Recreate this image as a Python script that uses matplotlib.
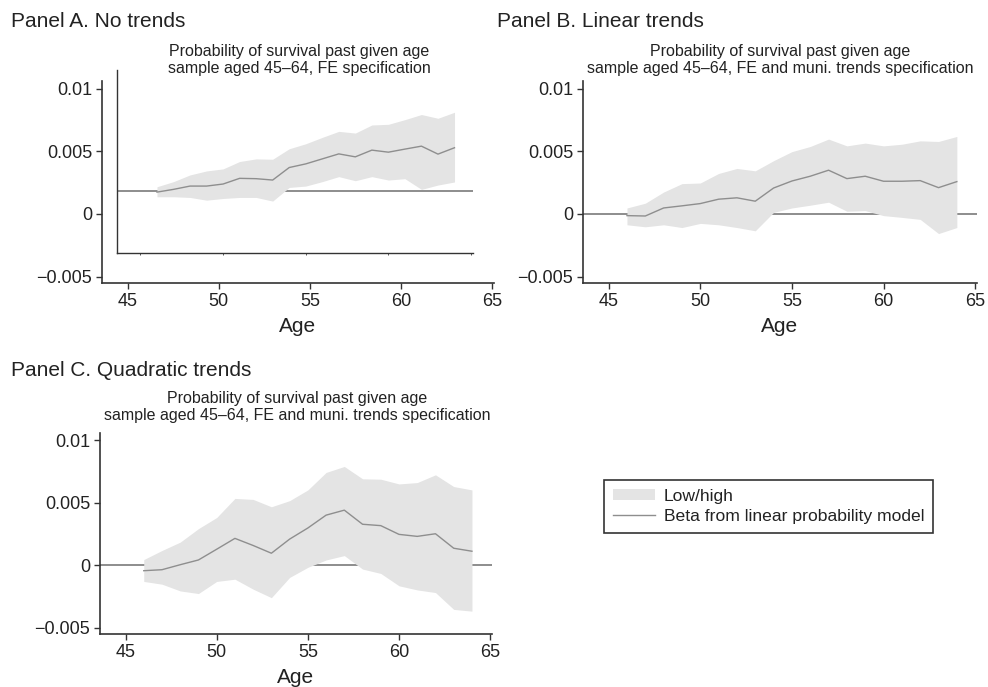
import matplotlib
matplotlib.use("Agg")
import matplotlib.pyplot as plt
from matplotlib.patches import Patch
from matplotlib.lines import Line2D

plt.rcParams['font.family'] = ['Liberation Sans', 'DejaVu Sans']

ages = list(range(46, 65))

# Panel A: No trends
a_beta = [-0.00012, 0.00012, 0.00041, 0.00041, 0.00059, 0.00109, 0.00106, 0.00094, 0.00204, 0.00236,
          0.00280, 0.00324, 0.00298, 0.00357, 0.00339, 0.00366, 0.00392, 0.00322, 0.00378]
a_high = [0.00035, 0.00080, 0.00139, 0.00174, 0.00192, 0.00257, 0.00280, 0.00277, 0.00369, 0.00413,
          0.00469, 0.00522, 0.00507, 0.00578, 0.00584, 0.00625, 0.00670, 0.00637, 0.00690]
a_low = [-0.00053, -0.00053, -0.00059, -0.00083, -0.00068, -0.00059, -0.00059, -0.00091, 0.00029, 0.00041,
         0.00080, 0.00124, 0.00088, 0.00124, 0.00094, 0.00106, 0.00012, 0.00050, 0.00077]

# Panel B: Linear trends
b_beta = [-0.00013, -0.00016, 0.00048, 0.00065, 0.00083, 0.00118, 0.00129, 0.00102, 0.00207, 0.00263,
          0.00301, 0.00349, 0.00282, 0.00301, 0.00261, 0.00261, 0.00266, 0.00210, 0.00258]
b_high = [0.00048, 0.00086, 0.00175, 0.00242, 0.00247, 0.00323, 0.00363, 0.00344, 0.00425, 0.00497,
          0.00538, 0.00597, 0.00543, 0.00565, 0.00543, 0.00556, 0.00583, 0.00578, 0.00618]
b_low = [-0.00086, -0.00102, -0.00086, -0.00108, -0.00075, -0.00086, -0.00108, -0.00134, 0.00013, 0.00048,
         0.00070, 0.00094, 0.00022, 0.00027, -0.00013, -0.00027, -0.00043, -0.00156, -0.00108]

# Panel C: Quadratic trends
c_beta = [-0.00043, -0.00035, 0.00005, 0.00043, 0.00129, 0.00216, 0.00159, 0.00097, 0.00210, 0.00299,
          0.00402, 0.00442, 0.00329, 0.00318, 0.00248, 0.00232, 0.00253, 0.00137, 0.00113]
c_high = [0.00046, 0.00119, 0.00186, 0.00294, 0.00383, 0.00536, 0.00528, 0.00469, 0.00518, 0.00604,
          0.00744, 0.00792, 0.00693, 0.00690, 0.00652, 0.00663, 0.00725, 0.00631, 0.00604]
c_low = [-0.00129, -0.00151, -0.00205, -0.00226, -0.00129, -0.00111, -0.00191, -0.00259, -0.00097, -0.00016,
         0.00043, 0.00078, -0.00030, -0.00065, -0.00164, -0.00197, -0.00218, -0.00353, -0.00367]

xticks = [45, 50, 55, 60, 65]
yticks = [-0.005, 0, 0.005, 0.01]
yticklabels = ['\u22120.005', '0', '0.005', '0.01']

panel_titles = ['Panel A. No trends', 'Panel B. Linear trends', 'Panel C. Quadratic trends']
sub1 = 'Probability of survival past given age'
sub2 = ['sample aged 45\u201364, FE specification',
        'sample aged 45\u201364, FE and muni. trends specification',
        'sample aged 45\u201364, FE and muni. trends specification']
legend_labels = ['Low/high', 'Beta from linear probability model']

W, H = 988, 687
fig = plt.figure(figsize=(W / 100, H / 100), dpi=100)
fig.patch.set_facecolor('white')

TXT = '#222222'
SP = '#333333'
BAND = '#e4e4e4'
LINE = '#8e8e8e'
ZERO = '#7a7a7a'
XLIM = (43.6, 65.1)
YLIM = (-0.0055, 0.0106)


def px_axes(left, top, right, bottom):
    return fig.add_axes([left / W, 1 - bottom / H, (right - left) / W, (bottom - top) / H])


def style_outer(ax):
    ax.set_xlim(*XLIM)
    ax.set_ylim(*YLIM)
    for s in ['top', 'right']:
        ax.spines[s].set_visible(False)
    for s in ['left', 'bottom']:
        ax.spines[s].set_color(SP)
        ax.spines[s].set_linewidth(1.2)
    ax.set_xticks(xticks)
    ax.set_yticks(yticks)
    ax.set_yticklabels(yticklabels)
    ax.tick_params(axis='both', direction='out', length=4, width=1.0, color=SP,
                   labelsize=13, labelcolor=TXT, pad=3)
    ax.set_xlabel('Age', fontsize=15, color=TXT, labelpad=5)
    ax.patch.set_alpha(0)


def draw_data(ax, low, high, beta):
    ax.axhline(0, color=ZERO, lw=1.2, zorder=1)
    ax.fill_between(ages, low, high, color=BAND, lw=0, zorder=2)
    ax.plot(ages, beta, color=LINE, lw=1.0, zorder=3)


# Panel A (outer axes + shifted inner plot region)
axA = px_axes(102, 81, 494, 283)
style_outer(axA)
s = 0.9066
inL, inB = 117.3, 253.3
inR = inL + s * (494 - 102)
inT = inB - s * (283 - 81)
axAi = px_axes(inL, inT, inR, inB)
axAi.set_xlim(*XLIM)
axAi.set_ylim(*YLIM)
axAi.patch.set_alpha(0)
for sname in ['top', 'right']:
    axAi.spines[sname].set_visible(False)
for sname in ['left', 'bottom']:
    axAi.spines[sname].set_color(SP)
    axAi.spines[sname].set_linewidth(1.0)
axAi.set_xticks(xticks)
axAi.set_yticks([])
axAi.tick_params(axis='x', direction='out', length=1.5, width=0.7, color='#555555', labelbottom=False)
draw_data(axAi, a_low, a_high, a_beta)

# Panel B
axB = px_axes(583, 81, 977, 283)
style_outer(axB)
draw_data(axB, b_low, b_high, b_beta)

# Panel C
axC = px_axes(100, 433, 492, 634)
style_outer(axC)
draw_data(axC, c_low, c_high, c_beta)


def ftext(x, y, t, **kw):
    fig.text(x / W, 1 - y / H, t, color=TXT, va='baseline', **kw)


ftext(11, 27, panel_titles[0], fontsize=15, ha='left')
ftext(497, 27, panel_titles[1], fontsize=15, ha='left')
ftext(11, 376, panel_titles[2], fontsize=15, ha='left')

ftext(299, 56, sub1, fontsize=11.5, ha='center')
ftext(299, 73, sub2[0], fontsize=11.5, ha='center')
ftext(780, 56, sub1, fontsize=11.5, ha='center')
ftext(780, 73, sub2[1], fontsize=11.5, ha='center')
ftext(297, 403, sub1, fontsize=11.5, ha='center')
ftext(297, 420, sub2[2], fontsize=11.5, ha='center')

handles = [Patch(facecolor=BAND, edgecolor='none'),
           Line2D([], [], color=LINE, lw=1.0)]
leg = fig.legend(handles, legend_labels, loc='upper left',
                 bbox_to_anchor=(604 / W, 1 - 480 / H), fontsize=12.6,
                 frameon=True, fancybox=False, edgecolor=SP, framealpha=1,
                 handlelength=2.4, handleheight=0.6, handletextpad=0.5,
                 labelspacing=0.3, borderpad=0.5, borderaxespad=0)
leg.get_frame().set_linewidth(1.2)
for t in leg.get_texts():
    t.set_color(TXT)

fig.savefig('out.png', dpi=100)
